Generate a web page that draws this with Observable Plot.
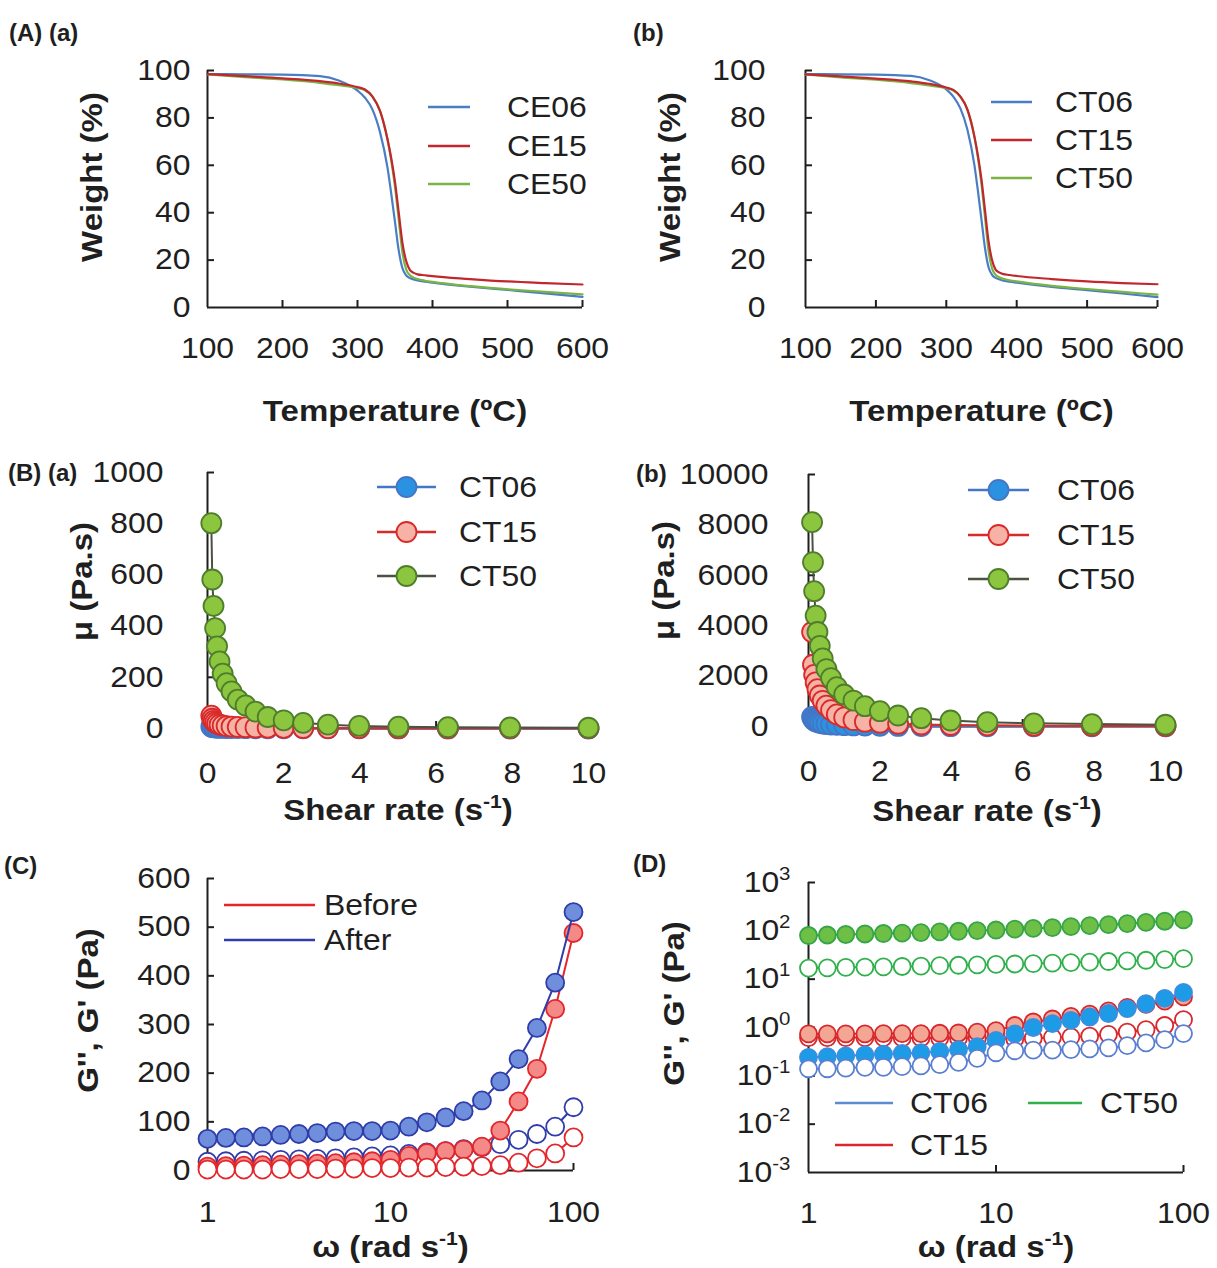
<!DOCTYPE html>
<html>
<head>
<meta charset="utf-8">
<script src="https://cdn.jsdelivr.net/npm/d3@7"></script>
<script src="https://cdn.jsdelivr.net/npm/@observablehq/plot@0.6"></script>
<style>
  body { margin: 0; background: #fff; }
  #fig { position: relative; width: 1217px; height: 1268px; overflow: hidden; background: #fff; }
  .panel { position: absolute; }
</style>
</head>
<body>
<div id="fig"></div>
<script>
// ---------- TGA (weight loss) ----------
const tgaTemp = [100,150,200,250,275,300,310,320,330,340,345,350,355,360,365,370,375,380,390,400,450,500,550,600];
const tgaCE06 = [98.5,98.4,98.3,97.6,95.8,91.5,88.5,83.5,74,59,48,36,24,16.5,13.5,12.4,11.8,11.4,10.9,10.5,8.8,7.4,6.0,4.5];
const tgaCE15 = [98.5,97.6,96.7,95.5,94.5,93,92,89,83,71,63,53,40,27,19.5,15.8,14.6,14,13.6,13.2,12,11,10.3,9.7];
const tgaCE50 = [98.4,97.2,96.2,94.8,93.8,92.6,91.6,89,83,71,62,51,37,23,16,13.6,12.6,12,11.3,10.8,9,7.7,6.6,5.5];
const tgaCT06 = [98.5,98.4,98.3,97.7,96,92,89,84,75,60,49,37,25,17,13.8,12.5,11.9,11.4,10.9,10.5,8.7,7.3,5.9,4.4];
const tgaCT15 = [98.4,97.5,96.6,95.4,94.4,92.8,91.8,89,83.5,72,64,54,41,28,20,16,14.8,14.2,13.7,13.3,12,11,10.3,9.8];
const tgaCT50 = [98.3,97.1,96.1,94.7,93.7,92.5,91.5,89,83.5,72,63,52,38,24,16.5,13.8,12.8,12.2,11.5,11,9.1,7.8,6.6,5.4];

// ---------- Viscosity vs shear rate ----------
const shearRate = [0.1,0.126,0.158,0.2,0.251,0.316,0.398,0.501,0.631,0.794,1,1.26,1.58,2,2.51,3.16,3.98,5.01,6.31,7.94,10];
const muA_CT06 = [8,6,5,4,3.5,3,2.5,2,1.7,1.4,1.2,1,0.8,0.7,0.6,0.5,0.4,0.3,0.3,0.2,0.2];
const muA_CT15 = [50,38,30,24,19,15,12,9.5,7.5,6,5,4,3.2,2.6,2.1,1.7,1.4,1.1,0.9,0.7,0.6];
const muA_CT50 = [802,582,479,392,321,262,214,177,145,113,90,66,45,32,22,15,10,7,5,4,3];
const muB_CT06 = [380,300,250,210,175,145,120,100,80,65,52,42,34,27,21,17,13,10,8,6,5];
const muB_CT15 = [3750,2450,2050,1750,1480,1230,1020,830,650,480,360,260,190,150,110,80,60,45,32,24,18];
const muB_CT50 = [8110,6520,5370,4400,3750,3200,2700,2280,1920,1560,1270,1030,806,608,437,330,238,172,125,95,70];

// ---------- Frequency sweeps ----------
const omega = [1,1.26,1.58,2,2.51,3.16,3.98,5.01,6.31,7.94,10,12.6,15.8,20,25.1,31.6,39.8,50.1,63.1,79.4,100];
const afterG1 = [65,67,68,70,73,75,77,80,81,81,82,90,99,109,122,144,183,229,293,386,531];
const beforeG1 = [8,9,10,11,12,13,14,15,17,19,22,30,36,40,43,49,82,142,209,332,488];
const afterG2 = [18,19,20,21,22,23,24,25,27,29,31,34,37,40,44,48,54,63,75,90,130];
const beforeG2 = [2,2,2,2,3,3,3,4,4,5,5,6,6,7,8,9,11,16,25,35,68];

const ct06G1 = [0.24,0.25,0.26,0.27,0.28,0.29,0.30,0.32,0.35,0.40,0.54,0.74,1.0,1.2,1.4,1.65,1.95,2.45,3.1,4.0,5.3];
const ct06G2 = [0.14,0.14,0.145,0.15,0.15,0.155,0.16,0.17,0.19,0.23,0.30,0.33,0.34,0.34,0.35,0.36,0.38,0.42,0.48,0.56,0.75];
const ct15G1 = [0.74,0.74,0.74,0.74,0.75,0.75,0.75,0.76,0.77,0.8,0.86,1.1,1.3,1.5,1.7,1.9,2.2,2.6,3.0,3.5,4.3];
const ct15G2 = [0.62,0.62,0.62,0.62,0.62,0.61,0.61,0.6,0.6,0.6,0.6,0.58,0.6,0.62,0.64,0.66,0.72,0.8,0.9,1.1,1.45];
const ct50G1 = [80,82,84,86,88,90,92,95,98,101,104,108,112,117,122,128,134,141,149,158,168];
const ct50G2 = [17,17.2,17.5,17.8,18,18.3,18.6,19,19.4,19.8,20.2,20.6,21,21.5,22,22.6,23.2,23.9,24.6,25.4,26.5];

// ---------- Tick values ----------
const tempTicks = [100,200,300,400,500,600];
const weightTicks = [0,20,40,60,80,100];
const shearTicks = [0,2,4,6,8,10];
const muTicksA = [0,200,400,600,800,1000];
const muTicksB = [0,2000,4000,6000,8000,10000];
const omegaTicks = [1,10,100];
const modTicksC = [0,100,200,300,400,500,600];
const modTicksD = [1e-3,1e-2,1e-1,1,10,100,1000];

const FONT = '"Liberation Sans", Arial, Helvetica, sans-serif';
const INK = "#1f1f1f";
const TICK_FS = 29, TITLE_FS = 30, LEGEND_FS = 29, WIDEN = 1.1;
const fig = document.getElementById("fig");

const rows = (xs, ys) => xs.map((x, i) => ({x, y: ys[i]}));
const plain = d => String(d);

// Superscript markup "^{...}" inside any SVG text becomes a raised tspan.
function supify(root) {
  const ns = "http://www.w3.org/2000/svg";
  root.querySelectorAll("text").forEach(t => {
    const s = t.textContent;
    if (!s.includes("^{")) return;
    const fs = parseFloat(getComputedStyle(t).fontSize) || TICK_FS;
    const rise = fs * 0.42;
    t.textContent = "";
    const re = /\^\{([^}]*)\}/g;
    let last = 0, m, raised = false;
    const add = (str, sup) => {
      const ts = document.createElementNS(ns, "tspan");
      ts.textContent = str;
      if (sup) { ts.setAttribute("font-size", (fs * 0.64).toFixed(1)); ts.setAttribute("dy", (-rise).toFixed(1)); raised = true; }
      else if (raised) { ts.setAttribute("dy", rise.toFixed(1)); raised = false; }
      t.appendChild(ts);
    };
    while ((m = re.exec(s))) {
      if (m.index > last) add(s.slice(last, m.index), false);
      add(m[1], true);
      last = re.lastIndex;
    }
    if (last < s.length) add(s.slice(last), false);
  });
}

// Widen lettering horizontally about each text's own anchor point.
function widen(root, k) {
  root.querySelectorAll("text").forEach(t => {
    if (t.classList.contains("tag")) return;
    const tr = t.getAttribute("transform") || "";
    const x = +t.getAttribute("x") || 0, y = +t.getAttribute("y") || 0;
    t.setAttribute("transform", `${tr} translate(${x},${y}) scale(${k},1) translate(${-x},${-y})`);
  });
}

function panel(cfg) {
  const {left, top, width, height, mt, mr, mb, ml, x, y, xTicks, yTicks,
         xFmt, yFmt, xPad, yPad, marks, xTitle, yTitle, xTitleDy, yTitleDx, yTitleDy} = cfg;
  const fw = width - ml - mr, fh = height - mt - mb;
  const chart = Plot.plot({
    width, height,
    marginTop: mt, marginRight: mr, marginBottom: mb, marginLeft: ml,
    x, y,
    style: {fontFamily: FONT, fontSize: TICK_FS + "px", color: INK, background: "transparent", overflow: "visible"},
    marks: [
      Plot.ruleX([x.domain[0]], {stroke: INK, strokeWidth: 2}),
      Plot.ruleY([y.domain[0]], {stroke: INK, strokeWidth: 2}),
      Plot.tickX(xTicks.slice(1), {x: d => d, insetTop: fh - 7, stroke: INK, strokeWidth: 2}),
      Plot.tickY(yTicks.slice(1), {y: d => d, insetRight: fw - 7, stroke: INK, strokeWidth: 2}),
      Plot.axisX(xTicks, {tickSize: 0, tickPadding: xPad, tickFormat: xFmt, label: null, fontSize: TICK_FS}),
      Plot.axisY(yTicks, {tickSize: 0, tickPadding: yPad, tickFormat: yFmt, label: null, fontSize: TICK_FS}),
      ...marks,
      Plot.text([xTitle], {frameAnchor: "bottom", dy: xTitleDy, text: d => d, textAnchor: "middle", lineAnchor: "middle",
        fontWeight: "bold", fontSize: TITLE_FS, fill: INK}),
      Plot.text([yTitle], {frameAnchor: "left", dx: yTitleDx, dy: yTitleDy, rotate: -90, text: d => d,
        textAnchor: "middle", lineAnchor: "middle", fontWeight: "bold", fontSize: TITLE_FS, fill: INK})
    ]
  });
  const holder = document.createElement("div");
  holder.className = "panel";
  holder.style.left = left + "px";
  holder.style.top = top + "px";
  holder.appendChild(chart);
  fig.appendChild(holder);
  supify(chart);
  widen(chart, WIDEN);
}

// Line series
const curve = (xs, ys, color) =>
  Plot.line(rows(xs, ys), {x: "x", y: "y", stroke: color, strokeWidth: 2.2, curve: "monotone-x"});
// Line + circle series
const dotted = (xs, ys, stroke, fill, r, lineColor) => [
  Plot.line(rows(xs, ys), {x: "x", y: "y", stroke: lineColor || stroke, strokeWidth: 2}),
  Plot.dot(rows(xs, ys), {x: "x", y: "y", r, fill, stroke, strokeWidth: 1.8})
];

const C = {
  blueLine: "#4a7ec4", redLine: "#c1272d", greenLine: "#7ab445",
  b06fill: "#2b92e2", b06stroke: "#4476c6",
  r15fill: "#f6b2a4", r15stroke: "#d92a2a",
  g50fill: "#8cc63f", g50stroke: "#4f7d2b", g50line: "#4b5240",
  afterFill: "#6f8fdc", afterStroke: "#2f3caa",
  beforeFill: "#f48a88", beforeStroke: "#e3262b",
  d06fill: "#1e9be6", d06stroke: "#3c8edf", d06open: "#5a7fd0",
  d15fill: "#f3a693", d15stroke: "#d8282d",
  d50fill: "#6dbf45", d50stroke: "#35a547", d50open: "#2fb04b"
};

// (A)(a) TGA of CE samples
panel({
  left: 0, top: 0, width: 610, height: 440, mt: 70, mr: 28, mb: 133, ml: 207,
  x: {domain: [100, 600]}, y: {domain: [0, 100]},
  xTicks: tempTicks, yTicks: weightTicks, xFmt: plain, yFmt: plain, xPad: 30, yPad: 17,
  marks: [curve(tgaTemp, tgaCE06, C.blueLine), curve(tgaTemp, tgaCE50, C.greenLine), curve(tgaTemp, tgaCE15, C.redLine)],
  xTitle: "Temperature (ºC)", yTitle: "Weight (%)", xTitleDy: 104, yTitleDx: -115, yTitleDy: -12
});

// (A)(b) TGA of CT samples
panel({
  left: 600, top: 0, width: 617, height: 440, mt: 70, mr: 60, mb: 133, ml: 205,
  x: {domain: [100, 600]}, y: {domain: [0, 100]},
  xTicks: tempTicks, yTicks: weightTicks, xFmt: plain, yFmt: plain, xPad: 30, yPad: 40,
  marks: [curve(tgaTemp, tgaCT06, C.blueLine), curve(tgaTemp, tgaCT50, C.greenLine), curve(tgaTemp, tgaCT15, C.redLine)],
  xTitle: "Temperature (ºC)", yTitle: "Weight (%)", xTitleDy: 104, yTitleDx: -135, yTitleDy: -12
});

// (B)(a) viscosity
panel({
  left: 0, top: 440, width: 610, height: 400, mt: 32, mr: 22, mb: 112, ml: 207,
  x: {domain: [0, 10]}, y: {domain: [0, 1000]},
  xTicks: shearTicks, yTicks: muTicksA, xFmt: plain, yFmt: plain, xPad: 34, yPad: 44,
  marks: [
    ...dotted(shearRate, muA_CT06, C.b06stroke, C.b06fill, 10),
    ...dotted(shearRate, muA_CT15, C.r15stroke, C.r15fill, 10),
    ...dotted(shearRate, muA_CT50, C.g50stroke, C.g50fill, 10, C.g50line)
  ],
  xTitle: "Shear rate (s^{-1})", yTitle: "μ (Pa.s)", xTitleDy: 82, yTitleDx: -125, yTitleDy: -19
});

// (B)(b) viscosity
panel({
  left: 600, top: 440, width: 617, height: 400, mt: 34, mr: 52, mb: 114, ml: 208,
  x: {domain: [0, 10]}, y: {domain: [0, 10000]},
  xTicks: shearTicks, yTicks: muTicksB, xFmt: plain, yFmt: plain, xPad: 34, yPad: 40,
  marks: [
    ...dotted(shearRate, muB_CT06, C.b06stroke, C.b06fill, 10),
    ...dotted(shearRate, muB_CT15, C.r15stroke, C.r15fill, 10),
    ...dotted(shearRate, muB_CT50, C.g50stroke, C.g50fill, 10, C.g50line)
  ],
  xTitle: "Shear rate (s^{-1})", yTitle: "μ (Pa.s)", xTitleDy: 85, yTitleDx: -144, yTitleDy: -20
});

// (C) moduli before / after
panel({
  left: 0, top: 840, width: 610, height: 428, mt: 38, mr: 37, mb: 98, ml: 207,
  x: {type: "log", domain: [1, 100]}, y: {domain: [0, 600]},
  xTicks: omegaTicks, yTicks: modTicksC, xFmt: plain, yFmt: plain, xPad: 31, yPad: 17,
  marks: [
    ...dotted(omega, afterG2, C.afterStroke, "#fff", 9),
    ...dotted(omega, beforeG1, C.beforeStroke, C.beforeFill, 9),
    ...dotted(omega, beforeG2, C.beforeStroke, "#fff", 9),
    ...dotted(omega, afterG1, C.afterStroke, C.afterFill, 9)
  ],
  xTitle: "ω (rad s^{-1})", yTitle: "G'', G' (Pa)", xTitleDy: 77, yTitleDx: -119, yTitleDy: -14
});

// (D) moduli of CT samples, log-log
panel({
  left: 600, top: 840, width: 617, height: 428, mt: 42, mr: 34, mb: 96, ml: 208,
  x: {type: "log", domain: [1, 100]}, y: {type: "log", domain: [1e-3, 1e3]},
  xTicks: omegaTicks, yTicks: modTicksD, xFmt: plain,
  yFmt: d => `10^{${Math.round(Math.log10(d))}}`, xPad: 30, yPad: 18,
  marks: [
    ...dotted(omega, ct15G2, C.d15stroke, "#fff", 8.5),
    ...dotted(omega, ct15G1, C.d15stroke, C.d15fill, 8.5),
    ...dotted(omega, ct06G1, C.d06stroke, C.d06fill, 8.5),
    ...dotted(omega, ct06G2, C.d06open, "#fff", 8.5),
    ...dotted(omega, ct50G2, C.d50open, "#fff", 8.5),
    ...dotted(omega, ct50G1, C.d50stroke, C.d50fill, 8.5)
  ],
  xTitle: "ω (rad s^{-1})", yTitle: "G'', G' (Pa)", xTitleDy: 75, yTitleDx: -134, yTitleDy: -24
});

// ---------- Panel tags and legends ----------
const ov = d3.select(fig).append("svg")
  .attr("width", 1217).attr("height", 1268)
  .style("position", "absolute").style("left", 0).style("top", 0)
  .style("font-family", FONT);

const tags = [
  {t: "(A) (a)", x: 9, y: 32}, {t: "(b)", x: 633, y: 32},
  {t: "(B) (a)", x: 8, y: 472}, {t: "(b)", x: 636, y: 473},
  {t: "(C)", x: 4, y: 865}, {t: "(D)", x: 633, y: 863}
];
ov.selectAll("text.tag").data(tags).join("text")
  .attr("class", "tag").attr("x", d => d.x).attr("y", d => d.y)
  .attr("dominant-baseline", "central").attr("font-weight", "bold")
  .attr("font-size", 24).attr("fill", INK).text(d => d.t);

function legend(items) {
  items.forEach(it => {
    ov.append("line").attr("x1", it.x1).attr("x2", it.x2).attr("y1", it.y).attr("y2", it.y)
      .attr("stroke", it.color).attr("stroke-width", it.w || 2.4);
    if (it.fill) {
      ov.append("circle").attr("cx", (it.x1 + it.x2) / 2).attr("cy", it.y).attr("r", 10)
        .attr("fill", it.fill).attr("stroke", it.stroke).attr("stroke-width", 1.8);
    }
    ov.append("text").attr("x", it.tx).attr("y", it.y).attr("dominant-baseline", "central")
      .attr("font-size", LEGEND_FS).attr("fill", INK).text(it.label);
  });
}

legend([
  {x1: 428, x2: 470, y: 107, color: C.blueLine, tx: 507, label: "CE06"},
  {x1: 428, x2: 470, y: 146, color: C.redLine, tx: 507, label: "CE15"},
  {x1: 428, x2: 470, y: 184, color: C.greenLine, tx: 507, label: "CE50"}
]);
legend([
  {x1: 991, x2: 1032, y: 102, color: C.blueLine, tx: 1055, label: "CT06"},
  {x1: 991, x2: 1032, y: 140, color: C.redLine, tx: 1055, label: "CT15"},
  {x1: 991, x2: 1032, y: 178, color: C.greenLine, tx: 1055, label: "CT50"}
]);
legend([
  {x1: 377, x2: 436, y: 487, color: C.b06stroke, fill: C.b06fill, stroke: C.b06stroke, tx: 459, label: "CT06"},
  {x1: 377, x2: 436, y: 532, color: C.r15stroke, fill: C.r15fill, stroke: C.r15stroke, tx: 459, label: "CT15"},
  {x1: 377, x2: 436, y: 576, color: C.g50line, fill: C.g50fill, stroke: C.g50stroke, tx: 459, label: "CT50"}
]);
legend([
  {x1: 968, x2: 1029, y: 490, color: C.b06stroke, fill: C.b06fill, stroke: C.b06stroke, tx: 1057, label: "CT06"},
  {x1: 968, x2: 1029, y: 535, color: C.r15stroke, fill: C.r15fill, stroke: C.r15stroke, tx: 1057, label: "CT15"},
  {x1: 968, x2: 1029, y: 579, color: C.g50line, fill: C.g50fill, stroke: C.g50stroke, tx: 1057, label: "CT50"}
]);
legend([
  {x1: 224, x2: 315, y: 905, color: C.beforeStroke, tx: 324, label: "Before"},
  {x1: 224, x2: 315, y: 940, color: C.afterStroke, tx: 324, label: "After"}
]);
legend([
  {x1: 835, x2: 893, y: 1103, color: "#5b8bd0", tx: 910, label: "CT06"},
  {x1: 1028, x2: 1082, y: 1103, color: C.d50open, tx: 1100, label: "CT50"},
  {x1: 835, x2: 893, y: 1145, color: C.d15stroke, tx: 910, label: "CT15"}
]);
widen(ov.node(), WIDEN);
</script>
</body>
</html>
